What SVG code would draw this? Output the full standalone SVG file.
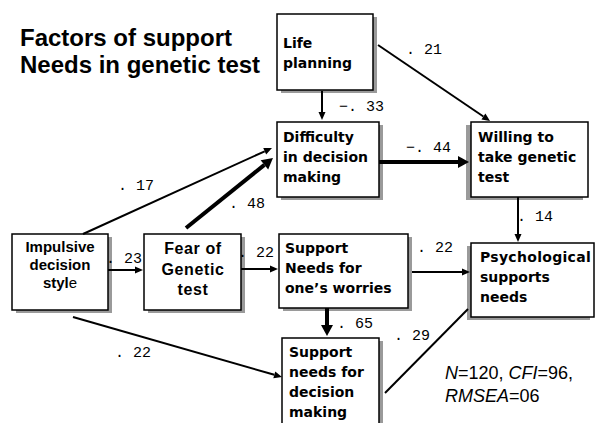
<svg xmlns="http://www.w3.org/2000/svg" width="596" height="423" viewBox="0 0 596 423">
<style>
.bg{fill:#fff}
.shadow{fill:#9a9a9a}
.box{fill:#fff;stroke:#000;stroke-width:1.5}
.t{font-family:"DejaVu Sans",sans-serif;font-weight:bold;font-size:14px;fill:#000}
.ta{font-family:"Liberation Sans",Arial,sans-serif;font-weight:bold;fill:#000}
.title{font-family:"Liberation Sans",Arial,sans-serif;font-weight:bold;font-size:24px;fill:#000}
.lbl{font-family:"Liberation Mono","DejaVu Sans Mono",monospace;font-size:15px;fill:#000}
.stat{font-family:"Liberation Sans",Arial,sans-serif;font-size:18px;fill:#000}
.thin{stroke:#000;stroke-width:2;fill:none}
.thick{stroke:#000;stroke-width:4;fill:none}
</style>
<defs>
<marker id="ah" markerUnits="userSpaceOnUse" markerWidth="10" markerHeight="10" viewBox="0 -5 8 10" refX="0" refY="0" orient="auto">
<path d="M0,-3.5 L8,0 L0,3.5 z" fill="#000"/>
</marker>
<marker id="ahb" markerUnits="userSpaceOnUse" markerWidth="13" markerHeight="14" viewBox="0 -7 11 14" refX="0" refY="0" orient="auto">
<path d="M0,-6 L11,0 L0,6 z" fill="#000"/>
</marker>
</defs>
<rect class="bg" x="0" y="0" width="596" height="423"/>
<g id="title">
<text class="title" x="20" y="46">Factors of support</text>
<text class="title" x="20" y="73">Needs in genetic test</text>
</g>
<g id="life-planning">
<rect class="shadow" x="281" y="17" width="96" height="76"/>
<rect class="box" x="277" y="14" width="96" height="76"/>
<text class="t" x="283" y="48">Life</text>
<text class="t" x="283" y="68">planning</text>
</g>
<g id="difficulty">
<rect class="shadow" x="281" y="125" width="102" height="75"/>
<rect class="box" x="277" y="122" width="102" height="75"/>
<text class="t" x="283" y="142">Difficulty</text>
<text class="t" x="283" y="162">in decision</text>
<text class="t" x="283" y="182">making</text>
</g>
<g id="willing">
<rect class="shadow" x="466" y="125" width="117" height="75"/>
<rect class="box" x="471" y="122" width="117" height="75"/>
<text class="t" x="478" y="142">Willing to</text>
<text class="t" x="478" y="162">take genetic</text>
<text class="t" x="478" y="182">test</text>
</g>
<g id="impulsive">
<rect class="shadow" x="16" y="237" width="96" height="76"/>
<rect class="box" x="12" y="234" width="96" height="76"/>
<text class="ta" font-size="15" text-anchor="middle" x="60" y="252">Impulsive</text>
<text class="ta" font-size="15" text-anchor="middle" x="60" y="270">decision</text>
<text class="ta" font-size="15" text-anchor="middle" x="60" y="288">styl<tspan font-weight="normal">e</tspan></text>
</g>
<g id="fear">
<rect class="shadow" x="148" y="237" width="97" height="76"/>
<rect class="box" x="144" y="234" width="97" height="76"/>
<text class="ta" font-size="16" letter-spacing="0.6" text-anchor="middle" x="193" y="254">Fear of</text>
<text class="ta" font-size="16" letter-spacing="0.6" text-anchor="middle" x="193" y="275">Genetic</text>
<text class="ta" font-size="16" letter-spacing="0.6" text-anchor="middle" x="193" y="295">test</text>
</g>
<g id="worries">
<rect class="shadow" x="283" y="237" width="129" height="74"/>
<rect class="box" x="279" y="234" width="129" height="74"/>
<text class="t" x="285" y="253">Support</text>
<text class="t" x="285" y="273">Needs for</text>
<text class="t" x="285" y="293">one’s worries</text>
</g>
<g id="psychological">
<rect class="shadow" x="467" y="246" width="123" height="74"/>
<rect class="box" x="471" y="243" width="123" height="74"/>
<text class="t" x="480" y="262" letter-spacing="0.3">Psychological</text>
<text class="t" x="480" y="282">supports</text>
<text class="t" x="480" y="302">needs</text>
</g>
<g id="decision-support">
<rect class="shadow" x="286" y="341" width="97" height="95"/>
<rect class="box" x="282" y="338" width="97" height="95"/>
<text class="t" x="289" y="357">Support</text>
<text class="t" x="289" y="377">needs for</text>
<text class="t" x="289" y="397">decision</text>
<text class="t" x="289" y="417">making</text>
</g>
<g id="connectors">
<line class="thin" x1="322" y1="91" x2="322" y2="112" marker-end="url(#ah)"/>
<line class="thin" x1="378" y1="45" x2="483.4" y2="116.5" marker-end="url(#ah)"/>
<line class="thick" x1="379" y1="162" x2="458" y2="162" marker-end="url(#ahb)"/>
<line class="thin" x1="83" y1="234" x2="264.7" y2="151.3" marker-end="url(#ah)"/>
<line class="thick" x1="186" y1="228" x2="264.4" y2="164.9" marker-end="url(#ahb)"/>
<line class="thin" stroke-width="2.5" x1="108" y1="270" x2="135" y2="270" marker-end="url(#ah)"/>
<line class="thin" x1="241" y1="269" x2="270" y2="269" marker-end="url(#ah)"/>
<line class="thin" stroke-width="2.5" x1="73" y1="317" x2="274.3" y2="374.8" marker-end="url(#ah)"/>
<line class="thin" x1="518" y1="197" x2="518" y2="234" marker-end="url(#ah)"/>
<line class="thin" x1="412" y1="272" x2="462" y2="272" marker-end="url(#ah)"/>
<line class="thick" x1="327" y1="308" x2="327" y2="325" marker-end="url(#ahb)"/>
<line class="thin" x1="385" y1="393" x2="468" y2="309"/>
</g>
<g id="labels">
<text class="lbl" x="406" y="54">. 21</text>
<text class="lbl" x="339" y="111">−. 33</text>
<text class="lbl" x="406" y="152">−. 44</text>
<text class="lbl" x="118" y="190">. 17</text>
<text class="lbl" x="229" y="208">. 48</text>
<text class="lbl" x="106" y="263">. 23</text>
<text class="lbl" x="238" y="257">. 22</text>
<text class="lbl" x="115" y="357">. 22</text>
<text class="lbl" x="517" y="221">. 14</text>
<text class="lbl" x="417" y="252">. 22</text>
<text class="lbl" x="337" y="328">. 65</text>
<text class="lbl" x="394" y="340">. 29</text>
</g>
<g id="stats">
<text class="stat" x="445" y="379"><tspan font-style="italic">N</tspan>=120, <tspan font-style="italic">CFI</tspan>=96,</text>
<text class="stat" x="445" y="402"><tspan font-style="italic">RMSEA</tspan>=06</text>
</g>
</svg>
